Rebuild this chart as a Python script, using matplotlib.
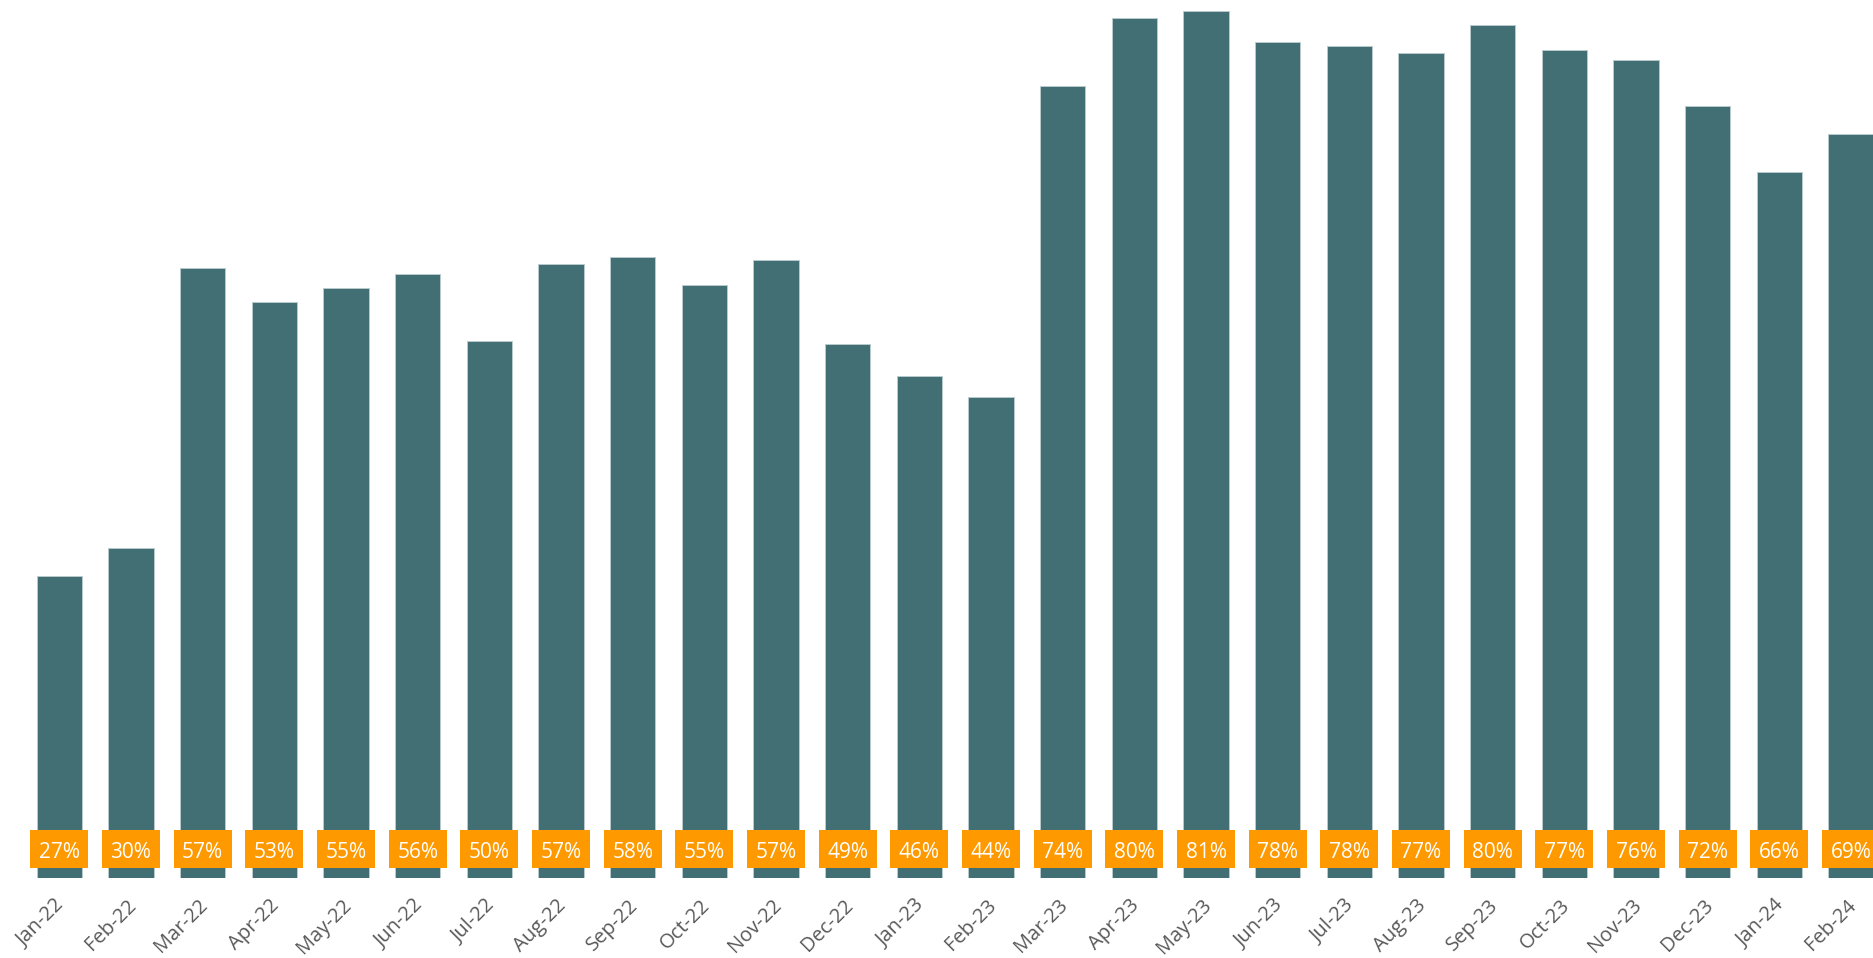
import numpy as np
import matplotlib.pyplot as plt
from matplotlib.transforms import ScaledTranslation

plt.rcParams["font.family"] = ["Open Sans", "DejaVu Sans"]

months = [
    "Jan-22", "Feb-22", "Mar-22", "Apr-22", "May-22", "Jun-22", "Jul-22",
    "Aug-22", "Sep-22", "Oct-22", "Nov-22", "Dec-22", "Jan-23", "Feb-23",
    "Mar-23", "Apr-23", "May-23", "Jun-23", "Jul-23", "Aug-23", "Sep-23",
    "Oct-23", "Nov-23", "Dec-23", "Jan-24", "Feb-24",
]
# bar values in percent
rates = [
    27.0, 29.7, 56.5, 53.2, 54.5, 55.9, 49.5, 56.8, 57.5, 54.8, 57.2, 49.2, 46.1,
    44.1, 73.9, 80.4, 81.0, 78.1, 77.7, 77.0, 79.7, 77.3, 76.3, 71.9, 65.6, 69.3,
]
labels = [
    "27%", "30%", "57%", "53%", "55%", "56%", "50%", "57%", "58%", "55%", "57%",
    "49%", "46%", "44%", "74%", "80%", "81%", "78%", "78%", "77%", "80%", "77%",
    "76%", "72%", "66%", "69%",
]

bar_color = "#416F73"
label_color = "#FF9900"
text_color = "#595959"

y_floor = -1.86
y_top = 82.08
box_low, box_high = -0.875, 2.73

fig = plt.figure(figsize=(18.73, 9.58), dpi=100)
ax = fig.add_axes([0, 0.0835, 1, 0.9165])

x = np.arange(len(months))
vals = np.array(rates)
ax.bar(x, vals - y_floor, bottom=y_floor, width=0.632, color=bar_color,
       edgecolor="#b9cacc", linewidth=0.7, zorder=2)

# orange label boxes near the base of each bar
ax.bar(x, box_high - box_low, bottom=box_low, width=0.809, color=label_color,
       linewidth=0, zorder=3)
for xi, lab in zip(x, labels):
    ax.text(xi, 0.82, lab, ha="center", va="center_baseline",
            fontsize=15, color="white", zorder=4)

ax.set_xlim(-0.827, 25.306)
ax.set_ylim(y_floor, y_top)

ax.set_xticks(x)
ax.set_xticklabels(months, rotation=45, ha="right", va="top",
                   rotation_mode="anchor", fontsize=14.5, color=text_color)
ax.tick_params(axis="x", length=0, pad=12.5)
offset = ScaledTranslation(-3.5 / 72, 0, fig.dpi_scale_trans)
for lbl in ax.get_xticklabels():
    lbl.set_transform(lbl.get_transform() + offset)

ax.set_yticks([])
for side in ["top", "right", "left", "bottom"]:
    ax.spines[side].set_visible(False)

fig.savefig("out.png", dpi=100)
